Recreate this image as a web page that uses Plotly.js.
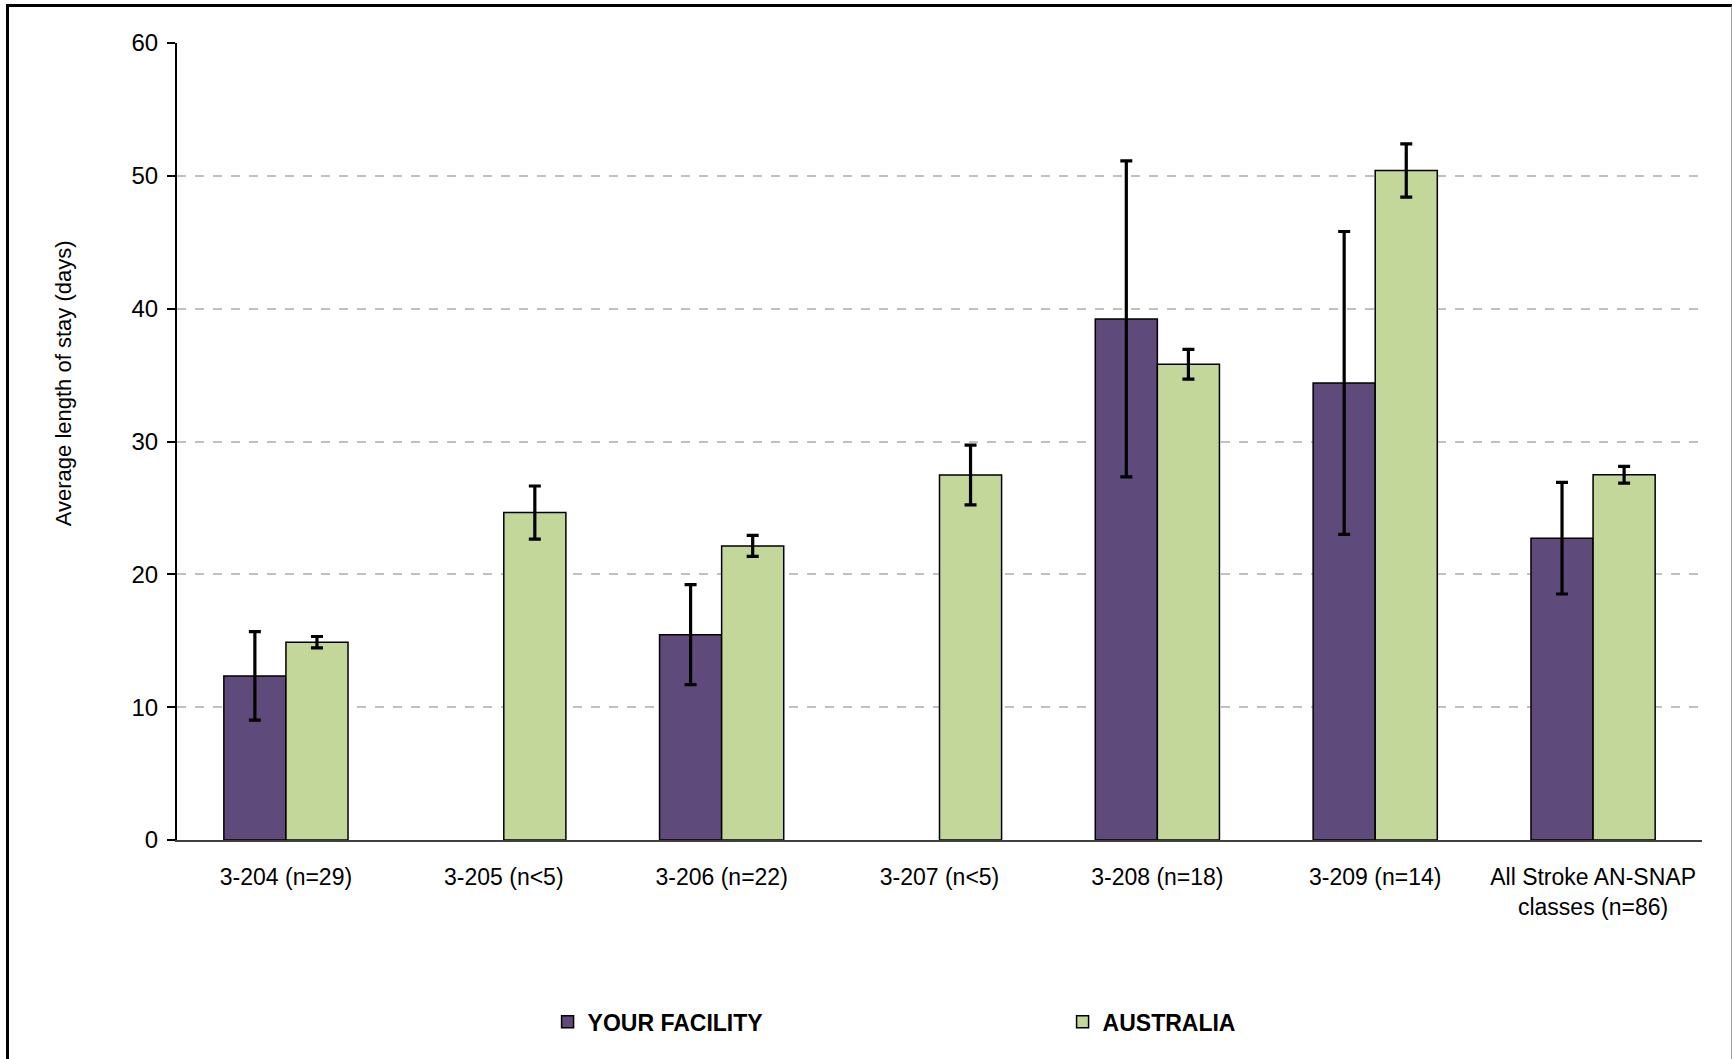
<!DOCTYPE html>
<html>
<head>
<meta charset="utf-8">
<script src="https://cdn.plot.ly/plotly-3.0.1.min.js"></script>
<style>
  html, body { margin: 0; padding: 0; background: #ffffff; }
  #chart { width: 1732px; height: 1059px; }
  #frame { position: absolute; left: 6px; top: 4px; width: 1722px; height: 1100px;
           border-left: 3px solid #000; border-top: 3px solid #000; border-right: 2px solid #a0a0a0;
           pointer-events: none; }
</style>
</head>
<body>
<div id="chart"></div>
<div id="frame"></div>
<script>
const categories = ["3-204 (n=29)", "3-205 (n<5)", "3-206 (n=22)", "3-207 (n<5)", "3-208 (n=18)", "3-209 (n=14)", "All Stroke AN-SNAP<br>classes (n=86)"];
const facilityValues = [12.35, null, 15.46, null, 39.23, 34.41, 22.72];
const facilityErrors = [3.33, null, 3.77, null, 11.9, 11.4, 4.2];
const australiaValues = [14.89, 24.65, 22.14, 27.48, 35.82, 50.4, 27.5];
const australiaErrors = [0.43, 2.0, 0.79, 2.25, 1.12, 2.0, 0.63];
const yTicks = [0, 10, 20, 30, 40, 50, 60];

const FONT = '"Liberation Sans", Arial, sans-serif';

const traces = [
  {
    type: 'bar', name: 'YOUR FACILITY', x: categories, y: facilityValues,
    marker: { color: '#5f4b7b', line: { color: '#000000', width: 1.5 } },
    error_y: { type: 'data', array: facilityErrors, visible: true, color: '#000000', thickness: 3.2, width: 6 }
  },
  {
    type: 'bar', name: 'AUSTRALIA', x: categories, y: australiaValues,
    marker: { color: '#c4d79b', line: { color: '#000000', width: 1.5 } },
    error_y: { type: 'data', array: australiaErrors, visible: true, color: '#000000', thickness: 3.2, width: 6 }
  }
];

const layout = {
  width: 1732, height: 1059,
  margin: { l: 177, r: 30, t: 43, b: 219 },
  paper_bgcolor: '#ffffff', plot_bgcolor: '#ffffff',
  font: { family: FONT, size: 23, color: '#000000' },
  barmode: 'group', bargap: 0.43, bargroupgap: 0,
  showlegend: true,
  legend: {
    orientation: 'h', x: 0.243, xanchor: 'left', y: -0.228, yanchor: 'middle',
    entrywidth: 470, entrywidthmode: 'pixels', itemwidth: 30,
    font: { family: FONT, size: 23, color: '#000000', weight: 'bold' },
    traceorder: 'normal'
  },
  xaxis: {
    type: 'category', showgrid: false, zeroline: false,
    showline: true, linecolor: '#404040', linewidth: 2,
    ticks: '', ticklabelstandoff: 15,
    tickfont: { family: FONT, size: 23, color: '#000000' }
  },
  yaxis: {
    range: [0, 60], tickvals: yTicks, ticktext: yTicks.map(String),
    showline: true, linecolor: '#000000', linewidth: 2,
    ticks: 'outside', ticklen: 8, tickwidth: 2, tickcolor: '#000000',
    showgrid: true, gridcolor: '#c0c0c0', griddash: 'dash', gridwidth: 1.5,
    zeroline: false, ticklabelstandoff: 4,
    tickfont: { family: FONT, size: 24, color: '#000000' }
  },
  annotations: [
    {
      text: 'Average length of stay (days)', textangle: -90,
      xref: 'paper', yref: 'paper', x: -0.0748, y: 0.573,
      xanchor: 'center', yanchor: 'middle', showarrow: false,
      font: { family: FONT, size: 22, color: '#000000' }
    }
  ]
};

Plotly.newPlot('chart', traces, layout, { displayModeBar: false, responsive: false });
</script>
</body>
</html>
